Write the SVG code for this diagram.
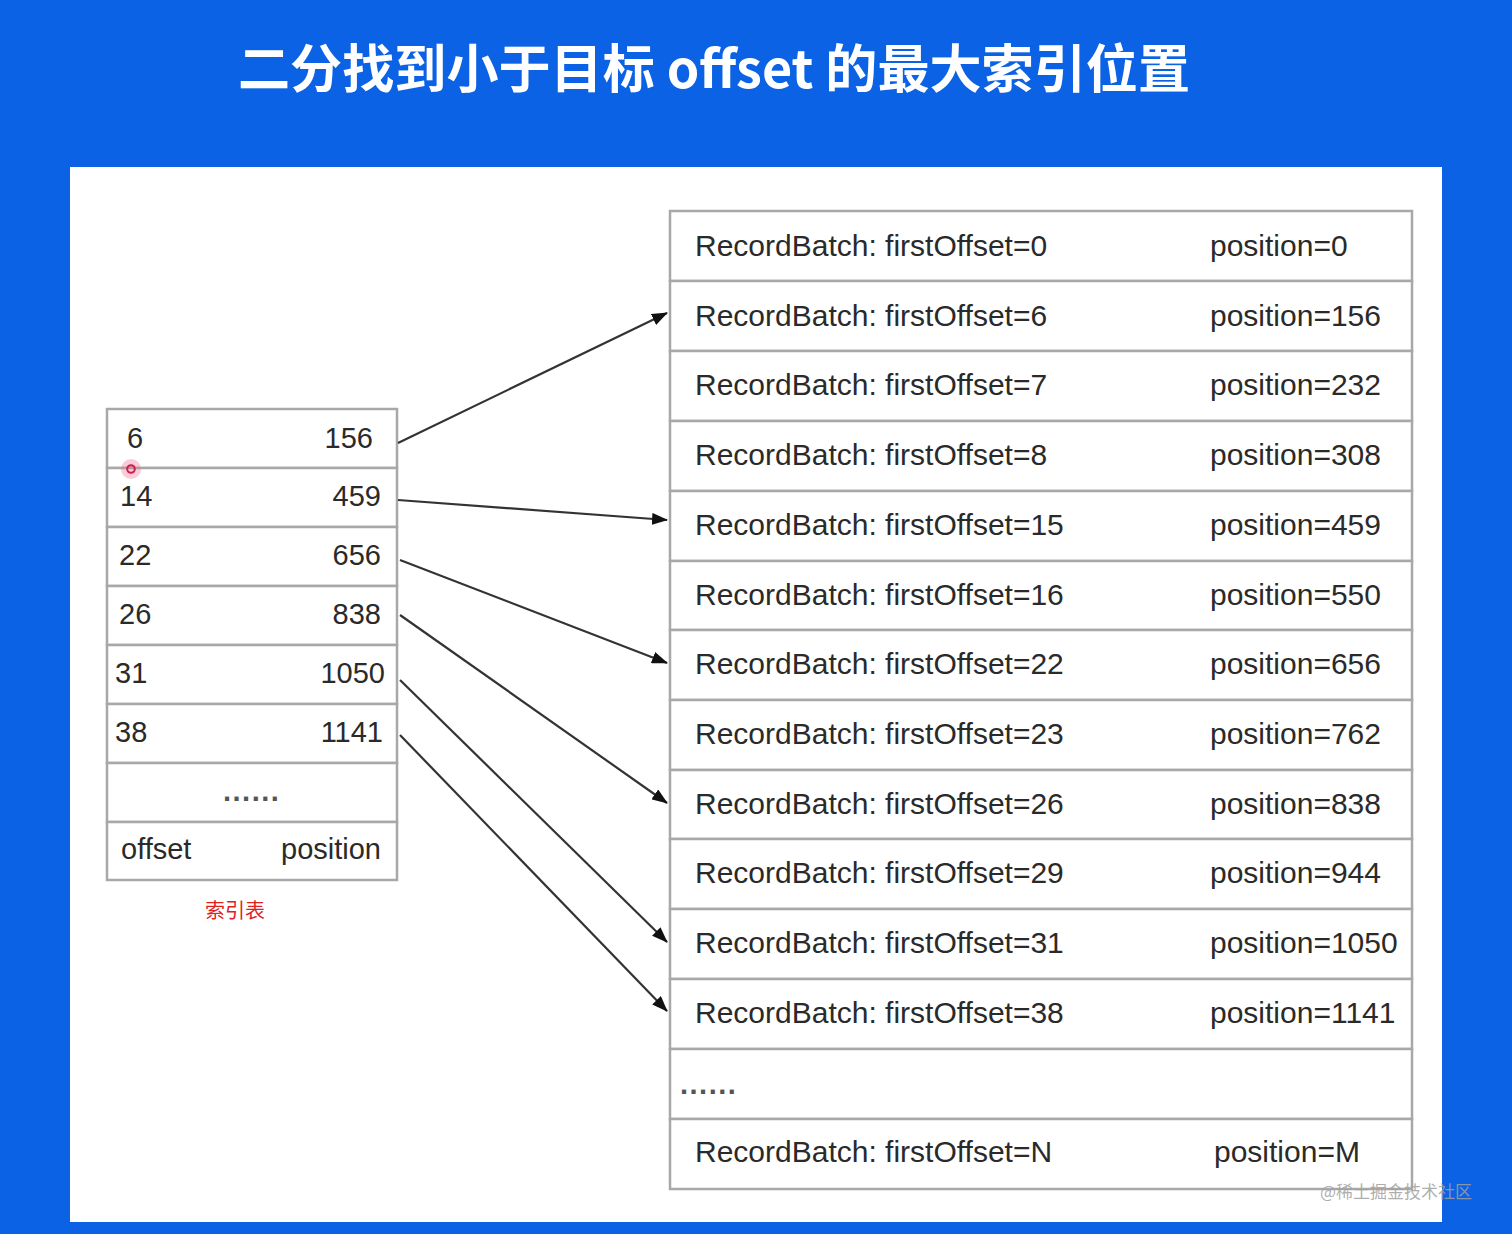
<svg xmlns="http://www.w3.org/2000/svg" width="1512" height="1234" viewBox="0 0 1512 1234">
<defs>
<style>
.cell{fill:#fff;stroke:#a8a8a8;stroke-width:2.5}
.t{font-family:"Liberation Sans",Arial,sans-serif;font-size:30px;fill:#2a2a2a}
.n{font-family:"Liberation Sans",Arial,sans-serif;font-size:29px;fill:#2a2a2a}
.r{text-anchor:end}
.dots{font-family:"Liberation Sans",Arial,sans-serif;font-size:29px;fill:#555;font-weight:bold;letter-spacing:1.5px}
.conn{stroke:#333;stroke-width:2.2;fill:none;marker-end:url(#ah)}
</style>
<marker id="ah" viewBox="0 0 16 12" refX="15" refY="6" markerWidth="16" markerHeight="12" markerUnits="userSpaceOnUse" orient="auto">
<path d="M0,0 L16,6 L0,12 Z" fill="#111"/>
</marker>
</defs>
<rect x="0" y="0" width="1512" height="1234" fill="#0b62e4"/>
<rect x="70" y="167" width="1372" height="1055" fill="#fff"/>
<text x="238" y="88" font-family="'Noto Sans CJK SC','Noto Sans',sans-serif" font-weight="bold" font-size="52" fill="#fff" textLength="952" lengthAdjust="spacingAndGlyphs">二分找到小于目标 offset 的最大索引位置</text>

<g id="index-table">
<rect class="cell" x="107" y="409" width="290" height="59"/>
<rect class="cell" x="107" y="468" width="290" height="59"/>
<rect class="cell" x="107" y="527" width="290" height="59"/>
<rect class="cell" x="107" y="586" width="290" height="59"/>
<rect class="cell" x="107" y="645" width="290" height="59"/>
<rect class="cell" x="107" y="704" width="290" height="59"/>
<rect class="cell" x="107" y="763" width="290" height="59"/>
<rect class="cell" x="107" y="822" width="290" height="58"/>
<text class="n" x="127" y="448">6</text><text class="n r" x="373" y="448">156</text>
<text class="n" x="120" y="506">14</text><text class="n r" x="381" y="506">459</text>
<text class="n" x="119" y="565">22</text><text class="n r" x="381" y="565">656</text>
<text class="n" x="119" y="624">26</text><text class="n r" x="381" y="624">838</text>
<text class="n" x="115" y="683">31</text><text class="n r" x="385" y="683">1050</text>
<text class="n" x="115" y="742">38</text><text class="n r" x="383" y="742">1141</text>
<text class="dots" x="223" y="801">......</text>
<text class="n" x="121" y="859">offset</text><text class="n r" x="381" y="859">position</text>
<text x="235" y="918" text-anchor="middle" font-family="'Noto Sans CJK SC',sans-serif" font-size="20" fill="#e0201e">索引表</text>
<circle cx="131" cy="469" r="10" fill="#f06a90" fill-opacity="0.35"/>
<circle cx="131" cy="469" r="3.8" fill="none" stroke="#c8204c" stroke-width="2"/>
</g>

<g id="log-table">
<rect class="cell" x="670" y="211" width="742" height="70"/>
<rect class="cell" x="670" y="281" width="742" height="70"/>
<rect class="cell" x="670" y="351" width="742" height="70"/>
<rect class="cell" x="670" y="421" width="742" height="70"/>
<rect class="cell" x="670" y="491" width="742" height="70"/>
<rect class="cell" x="670" y="561" width="742" height="69"/>
<rect class="cell" x="670" y="630" width="742" height="70"/>
<rect class="cell" x="670" y="700" width="742" height="70"/>
<rect class="cell" x="670" y="770" width="742" height="69"/>
<rect class="cell" x="670" y="839" width="742" height="70"/>
<rect class="cell" x="670" y="909" width="742" height="70"/>
<rect class="cell" x="670" y="979" width="742" height="70"/>
<rect class="cell" x="670" y="1049" width="742" height="70"/>
<rect class="cell" x="670" y="1119" width="742" height="70"/>
<text class="t" x="695" y="256">RecordBatch: firstOffset=0</text><text class="t" x="1210" y="256">position=0</text>
<text class="t" x="695" y="326">RecordBatch: firstOffset=6</text><text class="t" x="1210" y="326">position=156</text>
<text class="t" x="695" y="395">RecordBatch: firstOffset=7</text><text class="t" x="1210" y="395">position=232</text>
<text class="t" x="695" y="465">RecordBatch: firstOffset=8</text><text class="t" x="1210" y="465">position=308</text>
<text class="t" x="695" y="535">RecordBatch: firstOffset=15</text><text class="t" x="1210" y="535">position=459</text>
<text class="t" x="695" y="605">RecordBatch: firstOffset=16</text><text class="t" x="1210" y="605">position=550</text>
<text class="t" x="695" y="674">RecordBatch: firstOffset=22</text><text class="t" x="1210" y="674">position=656</text>
<text class="t" x="695" y="744">RecordBatch: firstOffset=23</text><text class="t" x="1210" y="744">position=762</text>
<text class="t" x="695" y="814">RecordBatch: firstOffset=26</text><text class="t" x="1210" y="814">position=838</text>
<text class="t" x="695" y="883">RecordBatch: firstOffset=29</text><text class="t" x="1210" y="883">position=944</text>
<text class="t" x="695" y="953">RecordBatch: firstOffset=31</text><text class="t" x="1210" y="953">position=1050</text>
<text class="t" x="695" y="1023">RecordBatch: firstOffset=38</text><text class="t" x="1210" y="1023">position=1141</text>
<text class="dots" x="680" y="1094">......</text>
<text class="t" x="695" y="1162">RecordBatch: firstOffset=N</text><text class="t" x="1214" y="1162">position=M</text>
</g>

<g id="connectors">
<line class="conn" x1="398" y1="443" x2="667" y2="313"/>
<line class="conn" x1="398" y1="500" x2="667" y2="520"/>
<line class="conn" x1="400" y1="560" x2="667" y2="663"/>
<line class="conn" x1="400" y1="615" x2="667" y2="803"/>
<line class="conn" x1="400" y1="680" x2="667" y2="942"/>
<line class="conn" x1="400" y1="735" x2="667" y2="1011"/>
</g>

<text x="1320" y="1198" font-family="'Noto Sans CJK SC',sans-serif" font-size="17" fill="#a0a0a0" fill-opacity="0.85">@稀土掘金技术社区</text>
</svg>
